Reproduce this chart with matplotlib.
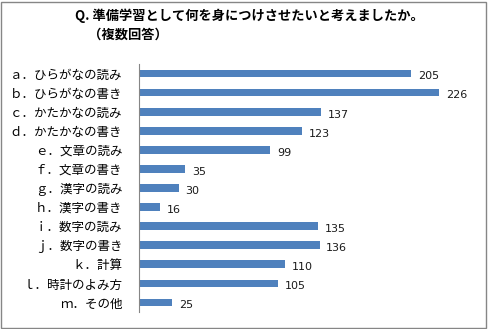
import matplotlib
matplotlib.use("Agg")
import matplotlib.pyplot as plt
from matplotlib.patches import Rectangle

plt.rcParams['font.family'] = ['Noto Sans CJK JP', 'DejaVu Sans']

labels = ["ａ．ひらがなの読み", "ｂ．ひらがなの書き", "ｃ．かたかなの読み", "ｄ．かたかなの書き",
          "ｅ．文章の読み", "ｆ．文章の書き", "ｇ．漢字の読み", "ｈ．漢字の書き",
          "ｉ．数字の読み", "ｊ．数字の書き", "ｋ．計算", "ｌ．時計のよみ方", "ｍ．その他"]
values = [205, 226, 137, 123, 99, 35, 30, 16, 135, 136, 110, 105, 25]
title = "Q. 準備学習として何を身につけさせたいと考えましたか。\n　（複数回答）"

fig = plt.figure(figsize=(4.88, 3.29), dpi=100)
fig.patches.append(Rectangle((0.003, 0.004), 0.992, 0.99, transform=fig.transFigure,
                             fill=False, edgecolor='#868686', linewidth=1))

ax = fig.add_axes([139 / 488, 1 - 312 / 329, (471 - 139) / 488, (312 - 64) / 329])
ypos = list(range(len(values)))
ax.barh(ypos, values, height=0.4, color='#4F81BD')
ax.set_xlim(0, 250)
ax.set_ylim(len(values) - 0.5, -0.5)
ax.set_yticks(ypos)
ax.set_yticklabels(labels, fontsize=9)
ax.tick_params(axis='y', length=0, pad=12)
ax.set_xticks([])
for s in ['top', 'right', 'bottom']:
    ax.spines[s].set_visible(False)
ax.spines['left'].set_color('#868686')

for y, v in zip(ypos, values):
    ax.text(v + 5, y + 0.15, str(v), va='center', ha='left', fontsize=8, color='#1a1a1a',
            family=['DejaVu Sans'])

fig.text(75 / 488, 1 - 8 / 329, title, ha='left', va='top', fontsize=9.5, fontweight='bold',
         linespacing=1.45)

fig.savefig("out.png", dpi=100)
